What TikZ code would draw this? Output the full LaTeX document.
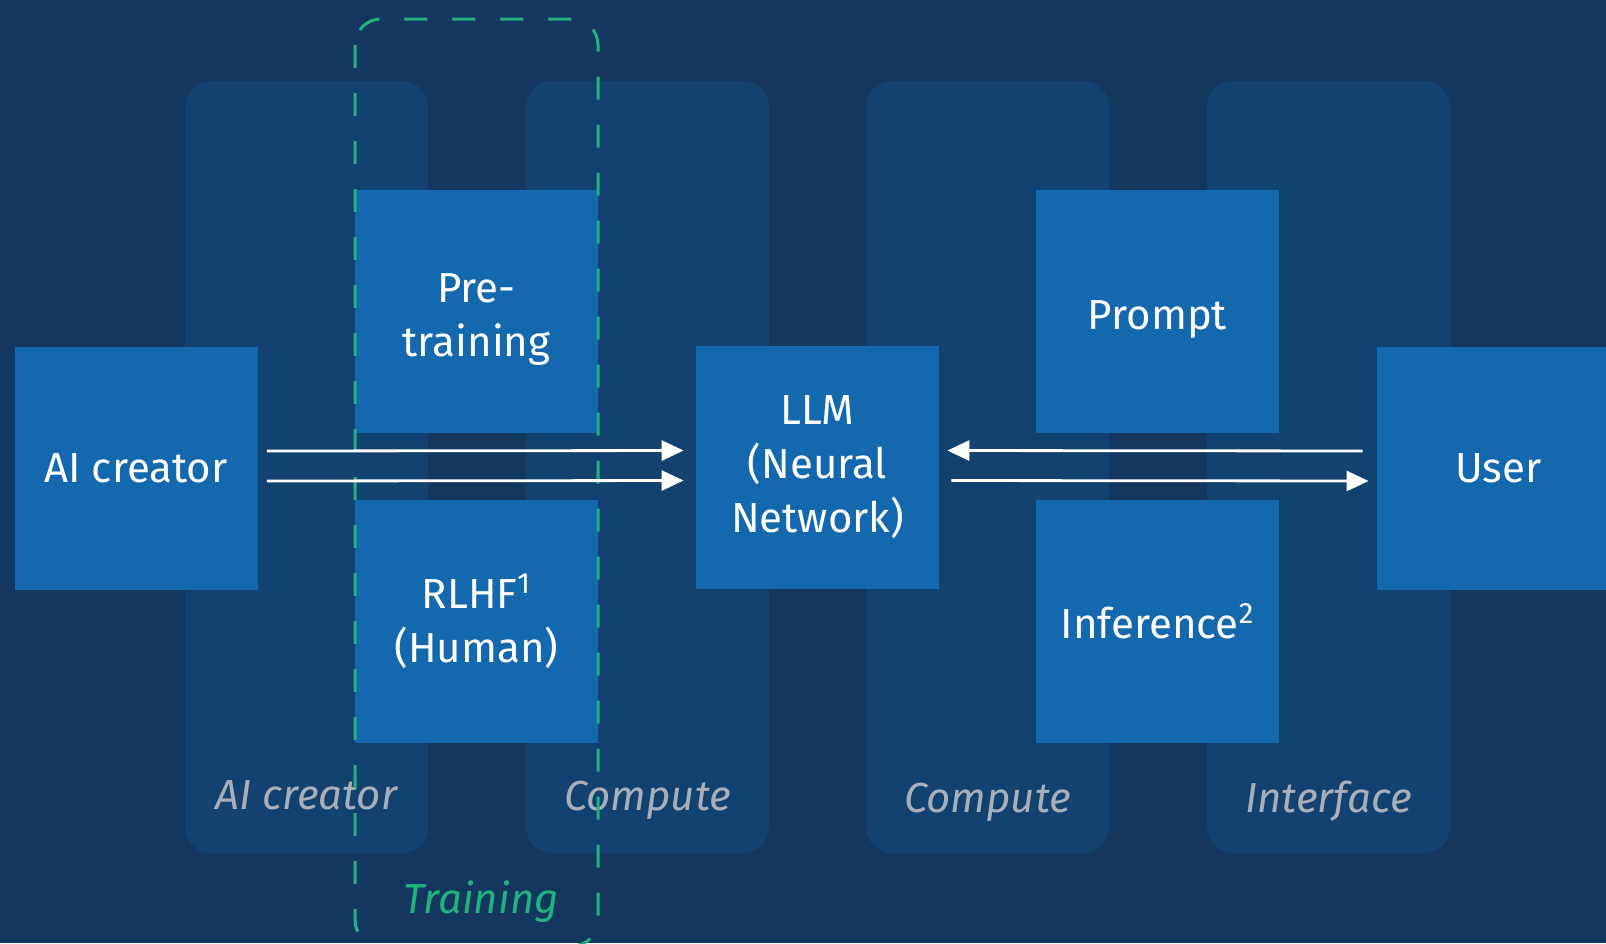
\documentclass[tikz,border=0pt]{standalone}
\usepackage{fontspec}
\setmainfont{Fira Sans}
\usetikzlibrary{arrows.meta}

\definecolor{bgblue}{HTML}{14375F}
\definecolor{colblue}{HTML}{12426F}
\definecolor{boxblue}{HTML}{1368AE}
\definecolor{trainGreen}{HTML}{20B27F}
\definecolor{labelGray}{HTML}{A8AFB9}

\def \boxSize {121.5pt}
\def \dropText #1{\raisebox{-4pt}[\height][\depth]{#1}}

\tikzset{
  block/.style={fill=boxblue, text=white, minimum size=\boxSize, inner sep=0pt,
    align=center, font=\fontsize{21}{27}\selectfont},
  column/.style={fill=colblue, rounded corners=13pt},
  collabel/.style={text=labelGray, anchor=base, font=\fontsize{21}{27}\selectfont\itshape},
  flow/.style={draw=white, line width=1.4pt, -{Triangle[length=11pt,width=10pt]}}
}

\begin{document}
\begin{tikzpicture}[x=0.5pt, y=-0.5pt]
  \useasboundingbox (0, 0) rectangle (1606, 943);
  \clip (0, 0) rectangle (1606, 943);
  \fill[bgblue] (0, 0) rectangle (1606, 943);

  % background columns
  \fill[column] (185, 81) rectangle (428, 853);
  \fill[column] (526, 81) rectangle (769, 853);
  \fill[column] (866, 81) rectangle (1109, 853);
  \fill[column] (1207, 81) rectangle (1450, 853);
  \node[collabel] (lblcreator) at (306.5, 809) {AI creator};
  \node[collabel] (lblcompA) at (647.5, 810) {Compute};
  \node[collabel] (lblcompB) at (987.5, 812) {Compute};
  \node[collabel] (lblinterface) at (1328.5, 812) {Interface};

  % blocks
  \node[block] (creator) at (136, 468) {AI creator};
  \node[block] (pretrain) at (476.5, 311.5) {\dropText{Pre-}\\\dropText{training}};
  \node[block] (rlhf) at (476.5, 621.5) {RLHF\textsuperscript{1}\\(Human)};
  \node[block] (llm) at (817.5, 467.5) {LLM\\(Neural\\Network)};
  \node[block] (prompt) at (1157.5, 311.5) {\dropText{Prompt}};
  \node[block] (infer) at (1157.5, 621.5) {Inference\textsuperscript{2}};
  \node[block] (user) at (1498.5, 468) {User};

  % training frame
  \draw[trainGreen, line width=1.5pt, dash pattern=on 11.5pt off 12.5pt, rounded corners=13pt]
    (355, 19) rectangle (598, 946);
  \node[collabel, text=trainGreen] (lbltrain) at (481, 913) {Training};

  % connectors
  \draw[flow, shorten <=4.5pt, shorten >=6pt] ([yshift=8.5pt]creator.east) -- ([yshift=8.5pt]llm.west);
  \draw[flow, shorten <=4.5pt, shorten >=6pt] ([yshift=-6.5pt]creator.east) -- ([yshift=-6.5pt]llm.west);
  \draw[flow, shorten <=7pt, shorten >=4pt] ([yshift=8.5pt]user.west) -- ([yshift=8.5pt]llm.east);
  \draw[flow, shorten <=6pt, shorten >=4pt] ([yshift=-6.5pt]llm.east) -- ([yshift=-6.5pt]user.west);
\end{tikzpicture}
\end{document}
